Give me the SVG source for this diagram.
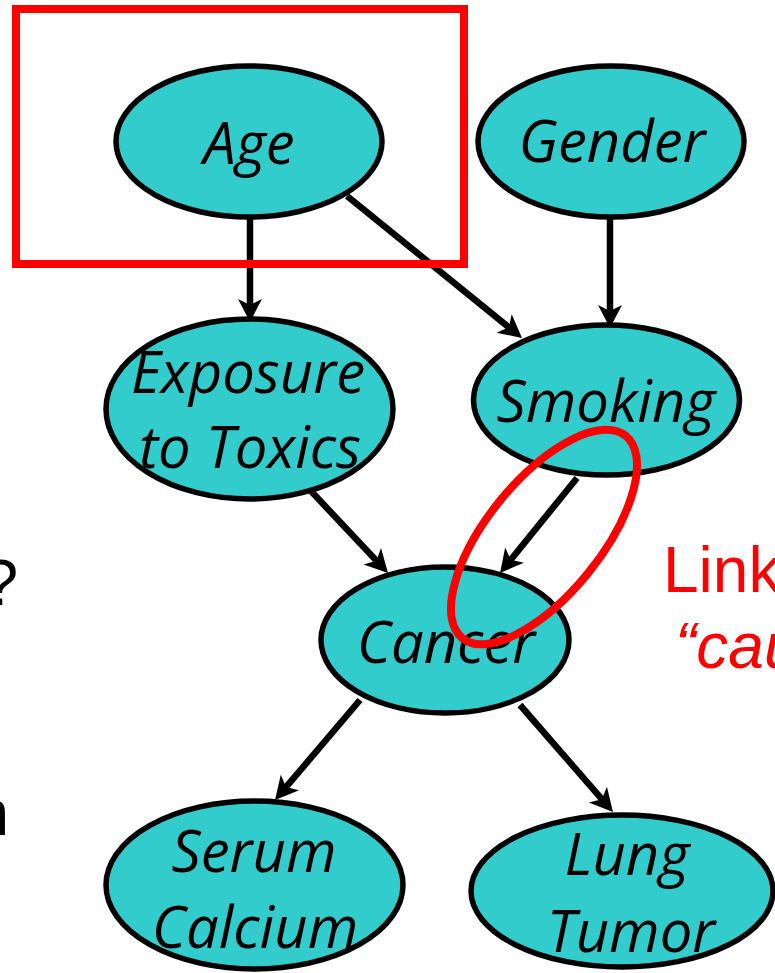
<svg xmlns="http://www.w3.org/2000/svg" width="775" height="973" viewBox="0 0 775 973">
<style>
.node ellipse{fill:#33CCCC;stroke:#000;stroke-width:5.5}
.node text{font-family:"Open Sans","Noto Sans",sans-serif;font-style:italic;font-size:58px;fill:#000;text-anchor:middle}
.conn line{stroke:#000;stroke-width:6.5;marker-end:url(#arr)}
.side{font-family:"Liberation Sans",Arial,sans-serif;font-size:64px}
.red{fill:none;stroke:#FF0000;stroke-width:8}
</style>
<defs>
<marker id="arr" markerUnits="userSpaceOnUse" markerWidth="40" markerHeight="40" viewBox="-20 -20 40 40" refX="0" refY="0" orient="auto">
<path d="M-11,-12 L12,0 L-11,12 L-5,0 Z" fill="#000"/>
</marker>
</defs>
<rect width="775" height="973" fill="#fff"/>
<g id="age" class="node"><ellipse cx="249" cy="141.5" rx="133" ry="75.5"/><text x="249" y="164">Age</text></g>
<g id="gender" class="node"><ellipse cx="611" cy="141.5" rx="133" ry="75.5"/><text x="612" y="162">Gender</text></g>
<g id="exposure" class="node"><ellipse cx="249.5" cy="409" rx="143.5" ry="90"/><text x="248" y="393">Exposure</text><text x="250" y="468">to Toxics</text></g>
<g id="smoking" class="node"><ellipse cx="606.5" cy="400" rx="133" ry="75"/><text x="606" y="422">Smoking</text></g>
<g id="cancer" class="node"><ellipse cx="445" cy="640" rx="124" ry="73"/><text x="446" y="663">Cancer</text></g>
<g id="serum" class="node"><ellipse cx="254.5" cy="885" rx="148.5" ry="84"/><text x="254" y="872">Serum</text><text x="255" y="948">Calcium</text></g>
<g id="lung" class="node"><ellipse cx="622" cy="891" rx="151" ry="76"/><text x="627" y="875">Lung</text><text x="631" y="952">Tumor</text></g>
<g id="connectors" class="conn">
<line x1="250" y1="218" x2="250" y2="310"/>
<line x1="347" y1="196" x2="512.7" y2="330.4"/>
<line x1="610" y1="218" x2="610" y2="316"/>
<line x1="310" y1="490" x2="379.8" y2="564.3"/>
<line x1="577" y1="478" x2="507.6" y2="563.7"/>
<line x1="360" y1="700" x2="282.8" y2="790.9"/>
<line x1="520" y1="705" x2="605.1" y2="802.9"/>
</g>
<g id="annotations">
<rect class="red" x="16" y="9" width="448" height="255"/>
<ellipse class="red" cx="544" cy="537" rx="130" ry="57" transform="rotate(-51 544 537)"/>
<text class="side" x="663" y="592" fill="#FF0000">Link</text>
<text class="side" x="675" y="668" fill="#FF0000" font-style="italic">“cau</text>
<text class="side" x="18" y="605" text-anchor="end" fill="#000">?</text>
<text class="side" x="9" y="835" text-anchor="end" fill="#000">n</text>
</g>
</svg>
